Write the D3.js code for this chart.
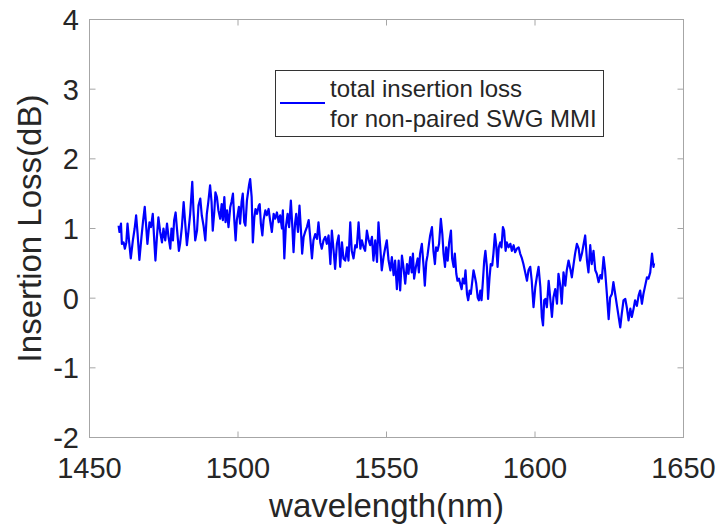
<!DOCTYPE html>
<html lang="en">
<head>
  <meta charset="UTF-8" />
  <title>Insertion loss</title>
  <script src="https://d3js.org/d3.v7.min.js"></script>
  <style>
    body { margin: 0; background: #fff; }
    svg { display: block; }
    text { font-family: "Liberation Sans", Arial, Helvetica, sans-serif; fill: #262626; }
    .frame { fill: none; stroke: #a6a6a6; stroke-width: 1; }
    .tick { stroke: #a6a6a6; stroke-width: 1; }
    .curve { fill: none; stroke: #0000ff; stroke-width: 2.2; stroke-linejoin: round; }
  </style>
</head>
<body>
  <svg id="chart" width="719" height="527"></svg>

  <script>
    // values
    const wavelength = [
      1459.8, 1460.1, 1460.6, 1460.9, 1461.5, 1461.9, 1462.4, 1462.8, 1463.3, 1463.9,
      1464.6, 1465.2, 1465.7, 1466.2, 1466.8, 1467.5, 1468.0, 1468.6, 1469.1, 1469.5,
      1470.2, 1470.7, 1471.3, 1471.8, 1472.2, 1472.7, 1473.2, 1473.8, 1474.4, 1474.9,
      1475.5, 1476.1, 1476.6, 1477.2, 1477.6, 1478.1, 1478.5, 1479.0, 1479.4, 1480.1,
      1480.5, 1481.1, 1481.7, 1482.2, 1482.8, 1483.3, 1483.9, 1484.6, 1485.0, 1485.6,
      1486.2, 1486.7, 1487.3, 1487.8, 1488.4, 1489.0, 1489.5, 1490.0, 1490.6, 1491.1,
      1491.5, 1492.0, 1492.4, 1492.9, 1493.4, 1494.0, 1494.5, 1494.9, 1495.4, 1495.8,
      1496.3, 1496.8, 1497.4, 1497.8, 1498.3, 1498.7, 1499.2, 1499.6, 1500.3, 1500.7,
      1501.2, 1501.6, 1502.1, 1502.5, 1503.0, 1503.7, 1504.1, 1504.6, 1505.0, 1505.5,
      1505.9, 1506.4, 1507.0,
      1507.3, 1507.7, 1508.2, 1508.6, 1509.2, 1509.7, 1510.3, 1510.8, 1511.4, 1512.0,
      1512.5, 1513.1, 1513.7, 1514.2, 1514.8, 1515.1, 1515.6, 1516.1, 1516.7, 1517.2,
      1517.8, 1518.3, 1518.7, 1519.2, 1519.6, 1520.2, 1520.7, 1521.2, 1521.6, 1522.1,
      1522.6, 1523.2, 1523.8, 1524.3, 1524.9, 1525.4, 1526.0, 1526.6, 1527.1, 1527.7,
      1528.2, 1528.8, 1529.4, 1529.9, 1530.5, 1531.1, 1531.6, 1532.2, 1532.7, 1533.3,
      1533.9, 1534.4, 1535.0, 1535.5, 1536.1, 1536.7, 1537.2, 1537.8, 1538.3, 1538.9,
      1539.5, 1540.0, 1540.6, 1541.2, 1541.7, 1542.3, 1542.8, 1543.4, 1544.0, 1544.5,
      1545.1, 1545.6, 1546.2, 1546.8, 1547.3, 1547.9, 1548.4, 1549.0, 1549.6, 1550.1,
      1550.7, 1551.3, 1551.8, 1552.4, 1552.9, 1553.5, 1554.1, 1554.6, 1555.2, 1555.7,
      1556.3, 1556.9, 1557.4, 1558.0,
      1558.5, 1558.9, 1559.3, 1559.9, 1560.5, 1560.9, 1561.3, 1561.9, 1562.5, 1562.9,
      1563.4, 1563.8, 1564.3, 1564.7, 1565.3, 1565.8, 1566.3, 1566.7, 1567.2, 1567.7,
      1568.3, 1568.8, 1569.2, 1569.7, 1570.1, 1570.6, 1571.1, 1571.7, 1572.1, 1572.6,
      1573.0, 1573.5, 1573.9, 1574.4, 1574.8, 1575.3, 1575.7, 1576.2, 1576.6, 1577.1,
      1577.5, 1578.0, 1578.4, 1578.9, 1579.3, 1579.8, 1580.2, 1580.7, 1581.1, 1581.6,
      1582.0, 1582.4, 1582.9, 1583.3, 1583.8, 1584.2, 1584.7, 1585.1, 1585.6, 1586.0,
      1586.5, 1586.9, 1587.4, 1587.8, 1588.3, 1588.7, 1589.2, 1589.6, 1590.1, 1590.5,
      1591.1, 1591.7, 1592.2, 1592.8, 1593.3, 1593.9, 1594.5, 1595.0, 1595.6, 1596.1,
      1596.7, 1597.3, 1597.8, 1598.4, 1598.9, 1599.5, 1600.1, 1600.6,
      1601.2, 1601.8, 1602.3, 1602.7, 1603.1, 1603.5, 1604.0, 1604.6, 1605.1, 1605.7,
      1606.2, 1606.8, 1607.4, 1607.9, 1608.5, 1609.0, 1609.6, 1610.2, 1610.7, 1611.3,
      1611.9, 1612.4, 1613.0, 1613.5, 1614.1, 1614.7, 1615.2, 1615.8, 1616.3, 1616.9,
      1617.5, 1618.0, 1618.6, 1619.1, 1619.7, 1620.3, 1620.8, 1621.4, 1622.0, 1622.5,
      1623.1, 1623.6, 1624.2, 1624.8, 1625.3, 1625.9, 1626.4, 1627.0, 1627.6, 1628.1,
      1628.7, 1629.2, 1629.8, 1630.4, 1630.9, 1631.5, 1632.1, 1632.6, 1633.2, 1633.7,
      1634.3, 1634.9, 1635.4, 1636.0, 1636.5, 1637.1, 1637.7, 1638.2, 1638.8, 1639.4,
      1639.9, 1640.1
    ];

    const insertionLoss = [
      1.04, 0.95, 1.07, 0.78, 0.80, 0.71, 0.80, 1.07, 0.83, 0.57,
      0.83, 1.00, 1.19, 0.92, 0.55, 0.88, 1.09, 1.31, 1.02, 0.78,
      1.09, 1.02, 1.21, 0.83, 0.54, 0.88, 1.16, 0.95, 0.80, 1.00,
      0.83, 1.07, 0.88, 0.71, 1.00, 0.83, 1.12, 1.23, 1.02, 0.68,
      0.78, 1.02, 1.38, 1.09, 0.76, 0.95, 1.21, 1.67, 1.26, 0.83,
      0.97, 1.33, 1.43, 1.19, 1.04, 0.83, 1.21, 1.38, 1.62, 1.38,
      0.97, 1.23, 1.52, 1.45, 1.26, 1.14, 1.35, 1.12, 1.45, 1.09,
      1.26, 1.02, 1.31, 1.38, 1.50, 1.16, 0.83, 1.12, 1.31, 1.07,
      1.38, 1.50, 1.09, 1.04, 1.40, 1.62, 1.71, 1.45, 0.80, 1.16,
      1.28, 1.21, 1.33,
      1.35, 1.07, 0.90, 1.12, 1.26, 1.19, 1.28, 1.12, 0.95, 1.21,
      1.14, 1.23, 1.09, 1.19, 1.00, 1.26, 0.57, 1.02, 1.21, 1.02,
      1.40, 1.02, 0.66, 1.07, 1.21, 0.95, 1.33, 0.97, 0.64, 0.88,
      0.95, 1.02, 1.12, 0.88, 0.57, 0.83, 0.92, 0.85, 1.09, 0.80,
      0.71, 0.83, 0.88, 0.78, 0.90, 0.49, 0.97, 0.68, 0.42, 0.78,
      0.90, 0.45, 0.80, 0.57, 0.54, 0.73, 0.54, 1.09, 0.68, 0.57,
      0.76, 0.73, 1.09, 0.71, 0.83, 0.73, 0.68, 0.97, 0.83, 0.76,
      0.88, 0.54, 0.83, 0.52, 1.09, 0.73, 0.40, 0.59, 0.73, 0.83,
      0.54, 0.40, 0.59, 0.33, 0.54, 0.13, 0.54, 0.11, 0.61, 0.45,
      0.21, 0.49, 0.35, 0.59,
      0.37, 0.64, 0.28, 0.45, 0.57, 0.37, 0.64, 0.78, 0.45, 0.18,
      0.52, 0.61, 0.78, 0.90, 1.02, 0.68, 0.49, 0.73, 0.68, 0.78,
      1.14, 0.92, 0.64, 0.45, 0.73, 0.54, 0.80, 0.97, 0.57, 0.45,
      0.64, 0.35, 0.25, 0.28, 0.21, 0.13, 0.28, 0.21, 0.40, 0.06,
      -0.03, 0.11, 0.06, 0.25, 0.40, 0.30, 0.21, 0.01, -0.03, 0.11,
      -0.03, 0.21, 0.54, 0.68, 0.45, -0.01, 0.30, 0.49, 0.47, 0.64,
      0.92, 0.78, 0.45, 0.73, 0.80, 0.73, 1.02, 0.97, 0.68, 0.80,
      0.73, 0.78, 0.68, 0.76, 0.66, 0.71, 0.73, 0.64, 0.57, 0.49,
      0.37, 0.25, 0.40, 0.45, 0.25, -0.13, 0.16, 0.30,
      0.45, 0.16, -0.27, -0.39, -0.03, -0.01, -0.13, 0.25, 0.01, -0.27,
      0.01, 0.13, -0.08, 0.35, 0.18, -0.08, 0.37, 0.18, 0.40, 0.54,
      0.42, 0.30, 0.49, 0.64, 0.78, 0.71, 0.54, 0.64, 0.76, 0.90,
      0.54, 0.37, 0.76, 0.49, 0.68, 0.40, 0.35, 0.23, 0.33, 0.28,
      0.59, 0.40, 0.06, -0.30, 0.01, 0.06, 0.23, 0.06, -0.11, -0.25,
      -0.42, -0.23, -0.03, -0.01, -0.13, -0.32, -0.15, -0.27, -0.15, -0.03,
      -0.11, 0.04, 0.11, -0.08, 0.06, 0.18, 0.30, 0.28, 0.37, 0.64,
      0.45, 0.50
    ];

    const xTicks = [1450, 1500, 1550, 1600, 1650];
    const yTicks = [-2, -1, 0, 1, 2, 3, 4];
    const legendLines = ["total insertion loss", "for non-paired SWG MMI"];

    const svg = d3.select("#chart");
    const plotL = 89.5, plotR = 683.5, plotT = 19.5, plotB = 437.5;
    const tickLen = 6;

    const x = d3.scaleLinear().domain([1450, 1650]).range([plotL, plotR]);
    const y = d3.scaleLinear().domain([-2, 4]).range([plotB, plotT]);

    // curve first, frame on top
    const data = wavelength.map((w, i) => [w, insertionLoss[i]]);
    svg.append("path")
      .datum(data)
      .attr("class", "curve")
      .attr("d", d3.line().x(d => x(d[0])).y(d => y(d[1])));

    svg.append("rect")
      .attr("class", "frame")
      .attr("x", plotL).attr("y", plotT)
      .attr("width", plotR - plotL).attr("height", plotB - plotT);

    // ticks on all four sides, pointing inward
    xTicks.forEach(t => {
      svg.append("line").attr("class", "tick")
        .attr("x1", x(t)).attr("x2", x(t)).attr("y1", plotB).attr("y2", plotB - tickLen);
      svg.append("line").attr("class", "tick")
        .attr("x1", x(t)).attr("x2", x(t)).attr("y1", plotT).attr("y2", plotT + tickLen);
      svg.append("text")
        .attr("x", x(t)).attr("y", 478)
        .attr("text-anchor", "middle")
        .attr("font-size", 29)
        .text(t);
    });

    yTicks.forEach(t => {
      svg.append("line").attr("class", "tick")
        .attr("x1", plotL).attr("x2", plotL + tickLen).attr("y1", y(t)).attr("y2", y(t));
      svg.append("line").attr("class", "tick")
        .attr("x1", plotR).attr("x2", plotR - tickLen).attr("y1", y(t)).attr("y2", y(t));
      svg.append("text")
        .attr("x", 79).attr("y", y(t) + 10.5)
        .attr("text-anchor", "end")
        .attr("font-size", 29)
        .text(t);
    });

    svg.append("text")
      .attr("x", (plotL + plotR) / 2).attr("y", 517)
      .attr("text-anchor", "middle")
      .attr("font-size", 33)
      .text("wavelength(nm)");

    svg.append("text")
      .attr("transform", `translate(41, ${(plotT + plotB) / 2}) rotate(-90)`)
      .attr("text-anchor", "middle")
      .attr("font-size", 33)
      .text("Insertion Loss(dB)");

    // legend
    const lg = svg.append("g");
    lg.append("rect")
      .attr("x", 275.5).attr("y", 70.5).attr("width", 328).attr("height", 66)
      .attr("fill", "#fff").attr("stroke", "#333").attr("stroke-width", 1);
    lg.append("line")
      .attr("x1", 280).attr("x2", 325).attr("y1", 103).attr("y2", 103)
      .attr("stroke", "#0000ff").attr("stroke-width", 2);
    legendLines.forEach((s, i) => {
      lg.append("text")
        .attr("x", 330).attr("y", 97 + i * 30)
        .attr("font-size", 24)
        .text(s);
    });
  </script>
</body>
</html>
